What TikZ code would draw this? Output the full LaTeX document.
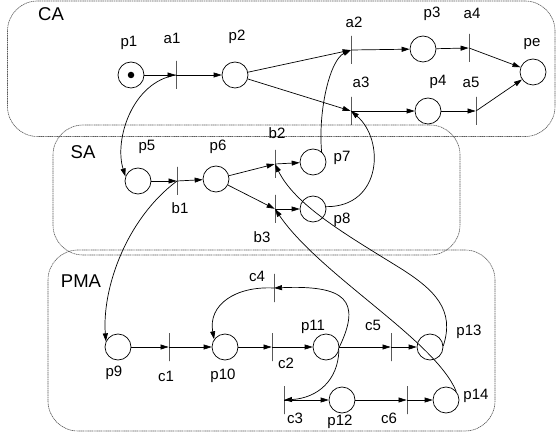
\documentclass[tikz,border=0pt]{standalone}
\usepackage{fontspec}
\setmainfont{Liberation Sans}
\usetikzlibrary{arrows.meta}
\begin{document}
\begin{tikzpicture}[x=1pt,y=-1pt,
  place/.style={circle,draw,line width=0.7pt,minimum size=26pt,inner sep=0pt},
  trans/.style={draw,line width=0.8pt,minimum width=0pt,minimum height=28pt,inner sep=0pt},
  arc/.style={line width=0.7pt,-{Triangle[length=8pt,width=5pt]}},
  lbl/.style={font=\fontsize{15}{15}\selectfont,inner sep=0pt},
  grp/.style={font=\fontsize{18.5}{18.5}\selectfont,inner sep=0pt},
  box/.style={draw=black!65,line width=0.6pt,dash pattern=on 1.2pt off 0.6pt,rounded corners=30pt}]
\useasboundingbox (0,0) rectangle (556,435);
% group boxes
\draw[box] (7.5,1) rectangle (555,136.5);
\draw[box] (53,125) rectangle (460,255);
\draw[box] (48,250) rectangle (495,431);
\node[grp] (lCA) at (51,14) {CA};
\node[grp] (lSA) at (83,152) {SA};
\node[grp] (lPMA) at (81,281) {PMA};
% CA
\node[place] (p1) at (131,75) {};
\node[circle,fill,inner sep=0pt,minimum size=6.5pt] (tok) at (p1.center) {};
\node[trans] (a1) at (176,75) {};
\node[place] (p2) at (235,75) {};
\node[trans] (a2) at (351,50) {};
\node[place] (p3) at (423,49) {};
\node[trans] (a4) at (469,48) {};
\node[place] (pe) at (533,72) {};
\node[trans] (a3) at (351,111) {};
\node[place] (p4) at (428,111) {};
\node[trans] (a5) at (476,111) {};
% SA
\node[place] (p5) at (138,181) {};
\node[trans] (b1) at (177,181) {};
\node[place] (p6) at (216,179) {};
\node[trans] (b2) at (275,164) {};
\node[place] (p7) at (313,162) {};
\node[trans] (b3) at (275,209) {};
\node[place] (p8) at (313,209) {};
% PMA
\node[place] (p9) at (118,347) {};
\node[trans] (c1) at (169,347) {};
\node[place] (p10) at (225,347) {};
\node[trans] (c2) at (272,347) {};
\node[place] (p11) at (326,347) {};
\node[trans] (c5) at (391,347) {};
\node[place] (p13) at (430,347) {};
\node[trans] (c4) at (274,288) {};
\node[trans] (c3) at (284,400) {};
\node[place] (p12) at (342,400) {};
\node[trans] (c6) at (407,400) {};
\node[place] (p14) at (446,400) {};
% labels
\node[lbl] (lp1) at (129,43) {p1};
\node[lbl] (la1) at (172,38) {a1};
\node[lbl] (lp2) at (237,37) {p2};
\node[lbl] (la2) at (354,22) {a2};
\node[lbl] (lp3) at (432,14) {p3};
\node[lbl] (la4) at (472,13) {a4};
\node[lbl] (lpe) at (532,44) {pe};
\node[lbl] (la3) at (361,82) {a3};
\node[lbl] (lp4) at (438,82) {p4};
\node[lbl] (la5) at (471,82) {a5};
\node[lbl] (lp5) at (147,147) {p5};
\node[lbl] (lp6) at (218,147) {p6};
\node[lbl] (lb2) at (277,133) {b2};
\node[lbl] (lp7) at (342,158) {p7};
\node[lbl] (lb1) at (180,208) {b1};
\node[lbl] (lb3) at (262,237) {b3};
\node[lbl] (lp8) at (342,220) {p8};
\node[lbl] (lc4) at (257,276) {c4};
\node[lbl] (lp9) at (114,373) {p9};
\node[lbl] (lc1) at (166,376) {c1};
\node[lbl] (lp10) at (223,376) {p10};
\node[lbl] (lc2) at (286,363) {c2};
\node[lbl] (lp11) at (313,327) {p11};
\node[lbl] (lc5) at (373,325) {c5};
\node[lbl] (lp13) at (469,332) {p13};
\node[lbl] (lc3) at (295,418) {c3};
\node[lbl] (lp12) at (340,422) {p12};
\node[lbl] (lc6) at (389,418) {c6};
\node[lbl] (lp14) at (476,396) {p14};
% straight arcs
\draw[arc] (p1) -- (a1);
\draw[arc] (a1) -- (p2);
\draw[arc] (p2) -- (a2);
\draw[arc] (p2) -- (a3);
\draw[arc] (a2) -- (p3);
\draw[arc] (p3) -- (a4);
\draw[arc] (a4) -- (pe);
\draw[arc] (a3) -- (p4);
\draw[arc] (p4) -- (a5);
\draw[arc] (a5) -- (pe);
\draw[arc] (p5) -- (b1);
\draw[arc] (b1) -- (p6);
\draw[arc] (p6) -- (b2);
\draw[arc] (p6) -- (b3);
\draw[arc] (b2) -- (p7);
\draw[arc] (b3) -- (p8);
\draw[arc] (p9) -- (c1);
\draw[arc] (c1) -- (p10);
\draw[arc] (p10) -- (c2);
\draw[arc] (c2) -- (p11);
\draw[arc] (p11) -- (c5);
\draw[arc] (c5) -- (p13);
\draw[arc] (c3) -- (p12);
\draw[arc] (p12) -- (c6);
\draw[arc] (c6) -- (p14);
% curved arcs
\draw[arc] (a1.center) .. controls (132,82) and (114,140) .. (p5.160);
\draw[arc] (b1.center) .. controls (125,220) and (102,290) .. (p9.155);
\draw[arc] (p7.50) .. controls (318,110) and (330,60) .. (a2.center);
\draw[arc] (p8.10) .. controls (382,207) and (385,140) .. (a3.center);
\draw[arc] (p13.5) .. controls (455,310) and (435,290) .. (400,268) .. controls (345,234) and (295,205) .. (b2.center);
\draw[arc] (p14.40) .. controls (435,340) and (320,275) .. (b3.center);
\draw[arc] (p11.east) .. controls (362,300) and (345,285) .. (c4.center);
\draw[arc] (c4.center) .. controls (235,286) and (208,305) .. (p10.145);
\draw[arc] (p11.-15) .. controls (338,380) and (318,398) .. (c3.center);
\end{tikzpicture}
\end{document}
